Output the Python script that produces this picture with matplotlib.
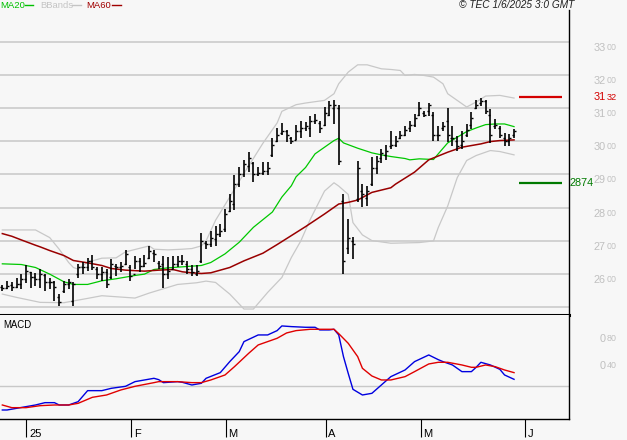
import matplotlib.pyplot as plt
from matplotlib import transforms
from matplotlib.lines import Line2D

plt.rcParams['font.family'] = ['Liberation Sans', 'DejaVu Sans']

# daily bars, index 0 = 23 Dec 2024
opens = [2560, 2558, 2566, 2562, 2570, 2585, 2605, 2590, 2585, 2598,
         2575, 2575, 2530, 2550, 2570, 2520, 2600, 2620, 2620, 2640,
         2615, 2600, 2605, 2590, 2625, 2620, 2630, 2620, 2600, 2640,
         2625, 2650, 2665, 2635, 2630, 2600, 2615, 2630, 2640, 2630,
         2615, 2600, 2640, 2695, 2690, 2705, 2720, 2735, 2790, 2810,
         2870, 2900, 2925, 2935, 2900, 2905, 2910, 2960, 3000, 3025,
         3030, 3010, 3005, 3030, 3040, 3040, 3060, 3055, 3050, 3080,
         3100, 3100, 2820, 2680, 2700, 2825, 2850, 2830, 2870, 2920,
         2950, 2960, 2985, 2990, 3010, 3020, 3040, 3050, 3080, 3085,
         3090, 3080, 3020, 3040, 3060, 3010, 3000, 2990, 3020, 3050,
         3100, 3115, 3120, 3080, 3045, 3040, 3010, 3000, 3020]
highs = [2566, 2580, 2577, 2587, 2600, 2626, 2605, 2603, 2615, 2600,
         2587, 2580, 2539, 2580, 2585, 2575, 2631, 2636, 2648, 2658,
         2620, 2620, 2615, 2646, 2631, 2636, 2672, 2626, 2656, 2648,
         2658, 2684, 2672, 2641, 2656, 2651, 2656, 2656, 2658, 2641,
         2626, 2626, 2725, 2700, 2731, 2746, 2751, 2797, 2842, 2898,
         2923, 2943, 2969, 2938, 2923, 2938, 2938, 3009, 3039, 3055,
         3034, 3014, 3049, 3060, 3057, 3077, 3082, 3062, 3103, 3120,
         3123, 3108, 2841, 2766, 2711, 2942, 2871, 2866, 2952, 2957,
         2978, 2989, 3032, 3017, 3032, 3047, 3062, 3082, 3118, 3092,
         3115, 3087, 3047, 3057, 3100, 3047, 3017, 3032, 3052, 3089,
         3123, 3130, 3125, 3097, 3067, 3045, 3025, 3022, 3037]
lows = [2549, 2554, 2549, 2559, 2554, 2572, 2559, 2564, 2559, 2549,
        2554, 2518, 2503, 2544, 2554, 2503, 2587, 2600, 2610, 2612,
        2585, 2580, 2559, 2585, 2595, 2605, 2626, 2580, 2615, 2605,
        2620, 2646, 2638, 2615, 2559, 2585, 2615, 2620, 2626, 2600,
        2595, 2595, 2633, 2676, 2681, 2686, 2711, 2726, 2787, 2792,
        2863, 2893, 2908, 2878, 2895, 2898, 2898, 2954, 2999, 3019,
        2999, 2992, 3004, 3009, 3032, 3012, 3052, 3025, 3047, 3077,
        3052, 2927, 2600, 2660, 2645, 2816, 2801, 2806, 2866, 2902,
        2935, 2945, 2977, 2982, 3007, 3017, 3029, 3042, 3077, 3072,
        3077, 3002, 3002, 3032, 2997, 2987, 2972, 2977, 3012, 3037,
        3097, 3106, 3082, 2995, 3037, 3009, 2985, 2987, 3009]
closes = [2558, 2565, 2562, 2570, 2585, 2610, 2590, 2585, 2600, 2575,
          2575, 2560, 2515, 2570, 2575, 2570, 2620, 2620, 2640, 2620,
          2600, 2605, 2570, 2630, 2620, 2625, 2660, 2595, 2640, 2625,
          2635, 2670, 2660, 2625, 2600, 2610, 2630, 2640, 2640, 2615,
          2605, 2610, 2700, 2690, 2710, 2720, 2730, 2780, 2820, 2870,
          2900, 2930, 2950, 2900, 2905, 2910, 2920, 2990, 3020, 3030,
          3020, 3000, 3030, 3040, 3045, 3060, 3065, 3040, 3085, 3110,
          3110, 2942, 2640, 2710, 2690, 2920, 2840, 2850, 2920, 2940,
          2965, 2970, 2990, 3000, 3020, 3035, 3050, 3070, 3100, 3080,
          3110, 3020, 3020, 3045, 3020, 3010, 2985, 3000, 3035, 3070,
          3110, 3120, 3090, 3020, 3050, 3020, 3000, 3010, 3030]

# indicator lines (bar index, value)
ma20_x = [0, 4, 7, 10, 13, 15, 18, 21, 24, 28, 30, 32, 35, 38, 42, 44, 47, 50, 53, 57,
          59, 61, 62, 64, 66, 70, 71, 72, 75, 78, 80, 82, 85, 86, 88, 91, 92, 94, 96, 98,
          100, 102, 104, 106, 108]
ma20_v = [2631, 2629, 2620, 2600, 2577, 2569, 2569, 2580, 2586, 2596, 2600, 2614, 2619, 2622,
          2626, 2635, 2661, 2696, 2741, 2787, 2832, 2866, 2893, 2921, 2962, 3002, 3009, 2995,
          2979, 2965, 2959, 2954, 2948, 2944, 2947, 2945, 2962, 2995, 3012, 3029, 3040, 3050,
          3052, 3052, 3044]
ma60_x = [0, 2, 4, 7, 8, 10, 13, 15, 18, 21, 23, 26, 30, 33, 36, 38, 40, 42, 44, 48,
          51, 55, 58, 61, 64, 68, 70, 71, 73, 75, 78, 82, 83, 87, 90, 94, 97, 101, 103, 105,
          108]
ma60_v = [2722, 2714, 2703, 2687, 2682, 2671, 2656, 2641, 2634, 2626, 2617, 2612, 2609, 2612,
          2614, 2607, 2604, 2602, 2604, 2620, 2640, 2663, 2689, 2716, 2743, 2781, 2801, 2811,
          2816, 2823, 2846, 2860, 2871, 2907, 2944, 2967, 2982, 2992, 2999, 3002, 3004]
bbu_x = [0, 7, 10, 12, 14, 15, 16, 18, 21, 24, 26, 31, 32, 35, 38, 40, 42, 43, 45, 48,
         51, 55, 58, 59, 62, 64, 68, 70, 71, 73, 75, 77, 80, 82, 84, 85, 87, 89, 91, 93,
         94, 97, 98, 100, 102, 105, 108]
bbu_v = [2733, 2733, 2710, 2675, 2635, 2620, 2615, 2636, 2648, 2649, 2667, 2685, 2675, 2673,
         2675, 2677, 2685, 2700, 2762, 2832, 2903, 2994, 3055, 3090, 3110, 3115, 3123, 3143,
         3173, 3208, 3230, 3230, 3218, 3216, 3213, 3198, 3201, 3198, 3193, 3173, 3143, 3113,
         3103, 3118, 3136, 3138, 3130]
bbl_x = [0, 3, 8, 13, 18, 21, 26, 28, 31, 37, 41, 43, 45, 48, 51, 53, 56, 59, 61, 63,
         65, 68, 70, 71, 73, 74, 76, 78, 82, 88, 91, 92, 94, 96, 98, 100, 102, 103, 105, 108]
bbl_v = [2540, 2530, 2515, 2514, 2527, 2535, 2530, 2528, 2543, 2569, 2574, 2579, 2575, 2540,
         2495, 2495, 2545, 2590, 2650, 2700, 2765, 2850, 2875, 2865, 2840, 2755, 2718, 2701,
         2693, 2695, 2700, 2740, 2805, 2890, 2942, 2957, 2967, 2972, 2969, 2959]

macd_x = [0, 1, 3, 5, 7, 9, 11, 12, 14, 16, 18, 21, 23, 26, 28, 30, 32, 33, 34, 37,
          38, 40, 42, 43, 46, 48, 50, 51, 54, 56, 58, 59, 61, 64, 66, 67, 69, 70, 71, 72,
          73, 74, 76, 78, 80, 82, 85, 87, 90, 92, 93, 95, 97, 99, 100, 101, 103, 105, 106, 108]
macd_v = [-0.355, -0.355, -0.33, -0.305, -0.28, -0.245, -0.245, -0.28, -0.28, -0.23,
          -0.065, -0.065, -0.03, 0.0, 0.07, 0.095, 0.12, 0.10, 0.055, 0.07,
          0.06, 0.02, 0.045, 0.12, 0.205, 0.37, 0.52, 0.67, 0.77, 0.77,
          0.835, 0.905, 0.895, 0.885, 0.885, 0.845, 0.845, 0.855, 0.77, 0.445,
          0.195, -0.045, -0.13, -0.105, 0.02, 0.145, 0.245, 0.37, 0.47, 0.40,
          0.37, 0.32, 0.22, 0.22, 0.285, 0.36, 0.32, 0.255, 0.17, 0.105]
sig_x = [0, 2, 5, 8, 11, 14, 16, 19, 22, 25, 28, 32, 33, 37, 40, 42, 44, 47, 49, 52,
         54, 58, 60, 62, 65, 70, 71, 73, 75, 76, 78, 80, 82, 85, 87, 90, 92, 94, 97, 99,
         100, 102, 104, 106, 108]
sig_v = [-0.28, -0.32, -0.32, -0.29, -0.28, -0.28, -0.255, -0.165, -0.13, -0.055,
         0.0, 0.055, 0.07, 0.07, 0.055, 0.055, 0.095, 0.17, 0.295, 0.495,
         0.62, 0.72, 0.80, 0.835, 0.855, 0.855, 0.79, 0.645, 0.445, 0.27,
         0.155, 0.095, 0.095, 0.145, 0.22, 0.335, 0.36, 0.36, 0.32, 0.285,
         0.285, 0.32, 0.295, 0.245, 0.205]

price_levels = [2600, 2700, 2800, 2900, 3000, 3100, 3200, 3300]
macd_levels = [0.4, 0.8]
resistance = 3132
support = 2874
month_pos = [5.1, 27.2, 47.2, 68.3, 88.3, 110.3]
month_labels = ['25', 'F', 'M', 'A', 'M', 'J']

bg = '#f7f7f7'
grid_c = '#c8c8c8'
lab_c = '#c0c0c0'

W, H = 627, 440
fig = plt.figure(figsize=(W / 100, H / 100), dpi=100, facecolor=bg)
ax = fig.add_axes([0, 125 / H, 569 / W, 305 / H], facecolor=bg)
ax2 = fig.add_axes([0, 21 / H, 569 / W, 104 / H], facecolor=bg)

xlim = (-0.49, 119.6)

# ---- price panel
ax.set_xlim(*xlim)
ax.set_ylim(2477, 3395)
for lv in [2500] + price_levels:
    ax.axhline(lv, color=grid_c, lw=1.1, zorder=0)

ax.plot(bbu_x, bbu_v, color='#c8c8c8', lw=0.9, zorder=1)
ax.plot(bbl_x, bbl_v, color='#c8c8c8', lw=0.9, zorder=1)
ax.plot(ma20_x, ma20_v, color='#00c800', lw=0.9, zorder=2)
ax.plot(ma60_x, ma60_v, color='#990000', lw=1.1, zorder=2)

idx = list(range(len(closes)))
ax.vlines(idx, lows, highs, color='black', lw=1.2, zorder=3)
ax.hlines(opens, [i - 0.42 for i in idx], idx, color='black', lw=1.0, zorder=3)
ax.hlines(closes, idx, [i + 0.42 for i in idx], color='black', lw=1.0, zorder=3)

ax.hlines(resistance, 109, 118.1, color='#d40000', lw=1.6)
ax.hlines(support, 109, 118.1, color='#007a00', lw=1.6)

for s in ['top', 'left']:
    ax.spines[s].set_visible(False)
ax.spines['right'].set_color('black')
ax.spines['right'].set_linewidth(1.0)
ax.spines['bottom'].set_linewidth(2.2)
ax.set_xticks([])
ax.set_yticks([])

tr = transforms.blended_transform_factory(ax.transAxes, ax.transData)
xb = 606 / 569
xs = 607 / 569
for lv in price_levels:
    t = transforms.offset_copy(tr, fig=fig, x=0, y=-1, units='dots')
    ax.text(xb, lv, str(lv)[:2], transform=t, ha='right', va='top',
            fontsize=7.8, color=lab_c, clip_on=False)
    ax.text(xs, lv, str(lv)[2:], transform=t, ha='left', va='top',
            fontsize=6.4, color=lab_c, clip_on=False)

ax.text(xb, resistance, str(resistance)[:2], transform=tr, ha='right', va='center',
        fontsize=7.8, color='#d40000', clip_on=False)
ax.text(xs, resistance, str(resistance)[2:], transform=tr, ha='left', va='center',
        fontsize=6.6, color='#d40000', clip_on=False)
ax.text(570 / 569, support, str(support), transform=tr, ha='left', va='center',
        fontsize=7.8, color='#007a00', clip_on=False)

# ---- MACD panel
ax2.set_xlim(*xlim)
ax2.set_ylim(-0.49, 1.069)
ax2.axhline(0, color=grid_c, lw=1.0, zorder=0)
ax2.plot(macd_x, macd_v, color='#0000e0', lw=1.0)
ax2.plot(sig_x, sig_v, color='#e00000', lw=1.0)

for s in ['top', 'left']:
    ax2.spines[s].set_visible(False)
ax2.spines['right'].set_linewidth(1.0)
ax2.spines['bottom'].set_linewidth(1.0)
ax2.set_yticks([])
ax2.set_xticks(month_pos)
ax2.set_xticklabels([])
ax2.tick_params(axis='x', length=13, width=0.8, color='black', direction='out')

tr2 = transforms.blended_transform_factory(ax2.transData, ax2.transAxes)
for pos, lab in zip(month_pos, month_labels):
    t = transforms.offset_copy(tr2, fig=fig, x=2.5, y=-15, units='dots')
    ax2.text(pos, 0, lab, transform=t, ha='left', va='center', fontsize=8, color='black',
             clip_on=False)

tr3 = transforms.blended_transform_factory(ax2.transAxes, ax2.transData)
for lv in macd_levels:
    t = transforms.offset_copy(tr3, fig=fig, x=0, y=-1, units='dots')
    ax2.text(xb, lv, '0', transform=t, ha='right', va='top', fontsize=7.8,
             color=lab_c, clip_on=False)
    ax2.text(xs, lv, '%02d' % round(lv * 100), transform=t, ha='left', va='top',
             fontsize=6.4, color=lab_c, clip_on=False)

ax2.text(3 / 569, 0.9, 'MACD', transform=ax2.transAxes, fontsize=6.9, color='black',
         va='center', ha='left')

# ---- header: legend and stamp
def fx(px):
    return px / W

def fy(py):
    return 1 - py / H

legend = [('MA20', '#00c000', 0, 25, 33),
          ('BBands', '#c4c4c4', 40.5, 72, 81),
          ('MA60', '#a00000', 86.5, 112, 121)]
for name, col, x0, l0, l1 in legend:
    fig.text(fx(x0), fy(5.5), name, color=col, fontsize=6.8, ha='left', va='center')
    fig.add_artist(Line2D([fx(l0), fx(l1)], [fy(5), fy(5)], color=col, lw=1.0,
                          transform=fig.transFigure))

fig.text(fx(574), fy(5), '\u00a9 TEC 1/6/2025 3:0 GMT', fontsize=7.3, style='italic',
         color='#202020', ha='right', va='center')

fig.savefig('out.png', dpi=100, facecolor=bg)
